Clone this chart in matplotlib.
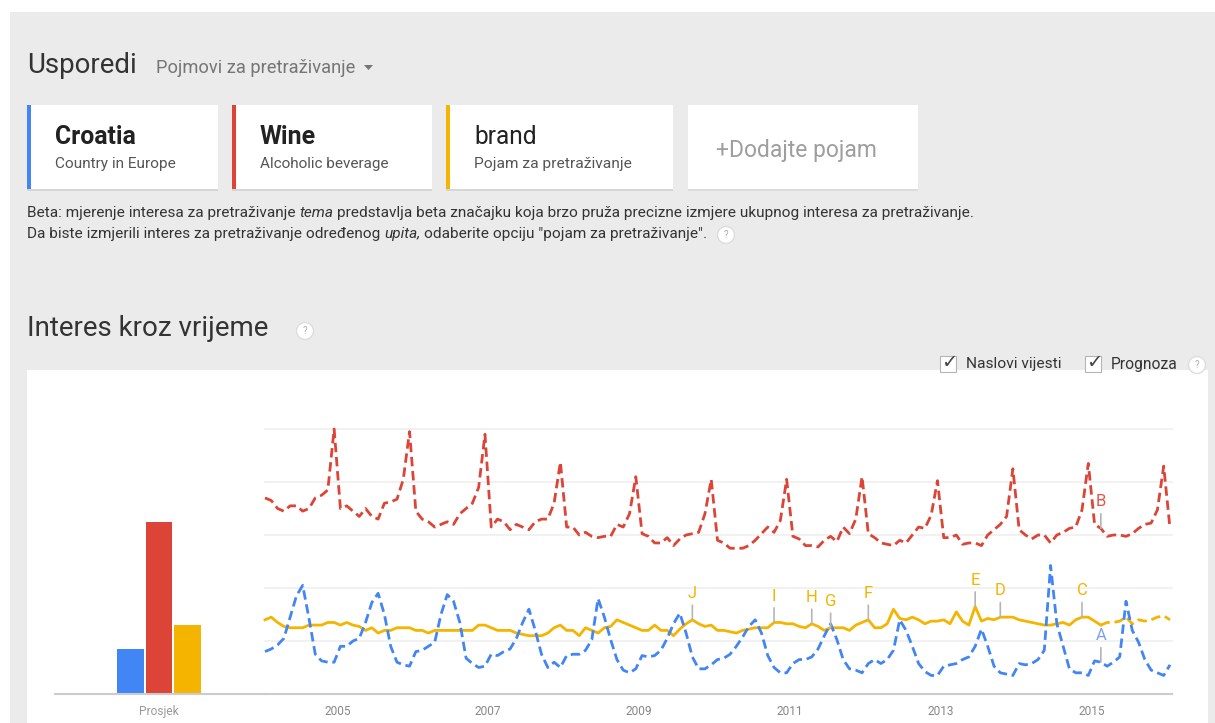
import numpy as np
import matplotlib
matplotlib.use("Agg")
import matplotlib.pyplot as plt
from matplotlib.patches import Rectangle, Circle, Polygon

plt.rcParams["font.family"] = ["Roboto", "DejaVu Sans"]

# ---- data ----
terms = ["Croatia", "Wine", "brand"]
term_subtitles = ["Country in Europe", "Alcoholic beverage", "Pojam za pretraživanje"]
term_colors = ["#4285f4", "#db4437", "#f4b400"]
averages = [17, 65, 26]

# monthly values, Jan 2004 .. Jan 2016
croatia = [
    16, 17, 18.5, 21, 29, 37, 41, 28.5, 15, 12.5, 12, 12,
    18, 18, 20, 21, 27, 34.5, 38, 30, 18, 12, 11, 10.5,
    16, 16.5, 18, 19.5, 30, 37.5, 35, 27, 13.5, 11.5, 10, 10.5,
    15, 14.5, 16, 17, 21, 27, 32, 24, 15, 10, 12, 10,
    14.5, 15, 15, 16.5, 20.5, 36, 29, 20.5, 13, 9, 8, 9.5,
    14.5, 14, 14.5, 16.5, 21, 26.5, 30.5, 23, 14, 9.5, 9.5, 11,
    13, 13.5, 15, 18, 21.5, 25.5, 28, 23, 14.5, 10, 8, 8,
    11.5, 13, 13, 14, 17, 22, 26.5, 20.5, 13, 9.5, 9, 8,
    11.5, 13, 11.5, 13, 16.5, 28, 24, 18, 11.5, 8.5, 7, 7,
    10.5, 11, 11.5, 13, 14, 18, 24.5, 18, 10.5, 8, 7.5, 7,
    11.5, 11, 11.5, 13, 16.5, 48.5, 26.5, 18, 9.5, 8, 8, 7,
    12.5, 12, 10.5, 12, 14, 35, 24, 19.5, 13, 9, 8, 7,
    11,
]
wine = [
    74, 73, 70, 69, 71, 71, 69, 70, 74, 75, 77, 100,
    70, 71, 69, 67, 70, 67, 66, 72, 72.5, 73.5, 81, 99,
    69, 66, 65, 63, 64, 65, 64, 68, 70, 72, 78, 98,
    63, 66, 65, 62, 64, 63, 62, 65, 66, 66, 72, 87.5,
    63, 63, 60, 61, 59.5, 59, 59.5, 59.5, 64, 63, 68, 82,
    60.5, 59.5, 57, 57, 59, 56, 58.5, 60, 60.5, 61, 68, 81,
    58, 57, 55, 55, 55, 56, 58, 60.5, 63, 61, 65.5, 81,
    59.5, 58.5, 56, 56, 55.5, 58, 59.5, 57.5, 63, 60.5, 66, 82,
    60.5, 59, 57, 56.5, 56, 58, 57, 60, 63, 62.5, 67.5, 80.5,
    59, 59, 60, 56.5, 57, 57, 56, 60, 62, 64, 67, 85,
    62, 60, 58.5, 60, 60, 57, 60, 61, 62.5, 63, 69.5, 87,
    64, 62.5, 59.5, 60, 60, 59.5, 60.5, 62.5, 64, 64.5, 69.5, 86,
    62.5,
]
brand = [
    28, 29, 27, 25.5, 25, 25, 25, 26, 26, 26, 27, 27,
    26, 27, 26, 25.5, 24, 25, 23, 24, 24, 25, 25, 25,
    24, 24, 23, 24, 24, 24, 24, 24, 24, 24, 26, 26,
    25, 24, 24, 24, 23, 22.5, 22, 22, 22, 23, 25, 26,
    24, 24, 22, 25, 24, 23, 25, 25.5, 28, 27, 26, 25,
    24, 24, 26, 24, 24, 22, 24.5, 26.5, 28, 26.5, 25.5, 26,
    24, 24, 23.5, 23, 24, 24.5, 25, 25, 25, 27, 27, 26.5,
    26.5, 25.5, 25, 26.5, 25.5, 24, 25, 25, 25, 24, 26, 27,
    28, 25, 25, 26.5, 32, 28.5, 28, 29, 28, 26.5, 27.5, 27.5,
    28, 26.5, 31, 27.5, 26, 33, 27.5, 28.5, 28, 29, 29, 29,
    28, 27.5, 27, 26.5, 26, 26, 26.5, 27, 26, 28, 29, 29,
    27.5, 26, 27, 27, 27.5, 29, 26.5, 28, 27.5, 28, 29, 29.5,
    28,
]
forecast_start = 133  # brand turns into the dashed forecast here

year_labels = ["2005", "2007", "2009", "2011", "2013", "2015"]

event_letters = ["A", "B", "C", "D", "E", "F", "G", "H", "I", "J"]
event_months = [133, 133, 130, 117, 113, 96, 90, 87, 81, 68]
event_terms = ["Croatia", "Wine", "brand", "brand", "brand", "brand", "brand", "brand", "brand", "brand"]

# ---- figure and pixel-space background ----
W, H = 1215, 723
fig = plt.figure(figsize=(W / 100, H / 100), dpi=100)
bg = fig.add_axes([0, 0, 1, 1], zorder=0)
bg.set_xlim(0, W)
bg.set_ylim(H, 0)
bg.axis("off")
renderer = fig.canvas.get_renderer()


def px_axes(x0, y0, x1, y1, **kw):
    return fig.add_axes([x0 / W, 1 - y1 / H, (x1 - x0) / W, (y1 - y0) / H], **kw)


def fitted(x, y, s, width, **kw):
    t = bg.text(x, y, s, fontsize=10, **kw)
    w = t.get_window_extent(renderer).width
    t.set_fontsize(10 * width / w)
    return t


def measure(s, size, **kw):
    t = bg.text(0, 0, s, fontsize=size, **kw)
    w = t.get_window_extent(renderer).width
    t.remove()
    return w


def rich_line(x, y, parts, width, color):
    full = " ".join(p for p, _ in parts)
    size = 10 * width / measure(full, 10)
    space = measure("a a", size) - measure("aa", size)
    for text, style in parts:
        bg.text(x, y, text, fontsize=size, style=style, color=color, va="center")
        x += measure(text, size, style=style) + space
    return x


def help_icon(x, y):
    bg.add_patch(Circle((x, y), 8.5, fc="white", ec="#dddddd", lw=1))
    bg.text(x, y + 0.5, "?", fontsize=7, color="#b0b0b0", ha="center", va="center")


bg.add_patch(Rectangle((10, 12), W - 10, H - 12, fc="#ebebeb", ec="none"))
bg.add_patch(Rectangle((27, 370), 1181, H - 370, fc="white", ec="none"))

# header
fitted(27, 73, "Usporedi", 110, color="#333333", va="baseline")
fitted(156, 73, "Pojmovi za pretraživanje", 199, color="#757575", va="baseline")
bg.add_patch(Polygon([[364, 65], [373, 65], [368.5, 70]], fc="#757575", ec="none"))

# term cards
card_x = [(27, 218), (232, 432), (446, 673)]
title_w = [81, 56, 63]
sub_w = [121, 129, 157]
for i, (x0, x1) in enumerate(card_x):
    bg.add_patch(Rectangle((x0, 106), x1 - x0, 85, fc="#d6d6d6", ec="none"))
    bg.add_patch(Rectangle((x0, 105), x1 - x0, 84, fc="white", ec="none"))
    bg.add_patch(Rectangle((x0, 105), 4, 84, fc=term_colors[i], ec="none"))
    fitted(x0 + 28, 144, terms[i], title_w[i], color="#222222", va="baseline",
           fontweight="bold" if i < 2 else "normal")
    fitted(x0 + 28, 168, term_subtitles[i], sub_w[i], color="#555555", va="baseline")
bg.add_patch(Rectangle((688, 106), 230, 85, fc="#dcdcdc", ec="none"))
bg.add_patch(Rectangle((688, 105), 230, 84, fc="white", ec="none"))
fitted(716, 157, "+Dodajte pojam", 161, color="#9e9e9e", va="baseline")

# beta note
rich_line(27, 213, [("Beta: mjerenje interesa za pretraživanje", "normal"), ("tema", "italic"),
                    ("predstavlja beta značajku koja brzo pruža precizne izmjere ukupnog interesa za pretraživanje.", "normal")],
          951, "#333333")
rich_line(27, 234, [("Da biste izmjerili interes za pretraživanje određenog", "normal"), ("upita,", "italic"),
                    ("odaberite opciju \"pojam za pretraživanje\".", "normal")],
          680, "#333333")
help_icon(726, 235)

# section title and options
fitted(27, 329, "Interes kroz vrijeme", 243, color="#333333", va="center")
help_icon(305, 331)
for bx, label, lw_ in [(940, "Naslovi vijesti", 95), (1085, "Prognoza", 66)]:
    bg.add_patch(Rectangle((bx, 356), 16, 16, fc="white", ec="#b5b5b5", lw=0.8))
    bg.text(bx + 9, 362, "✓", fontsize=14, family="DejaVu Sans", color="#444444",
            ha="center", va="center")
    fitted(bx + 26, 364, label, lw_, color="#333333", va="center")
help_icon(1197, 365)

# ---- average bars ----
bar_ax = px_axes(55, 429, 265, 694, zorder=1)
bar_ax.set_facecolor("none")
bar_ax.bar(range(len(averages)), averages, width=0.93, color=term_colors, zorder=2)
bar_ax.set_xlim(-2.65, 4.72)
bar_ax.set_ylim(0, 100)
bar_ax.set_xticks([1], labels=["Prosjek"])
bar_ax.set_yticks([])
bar_ax.tick_params(length=0, colors="#999999", labelsize=8.6, pad=8)
for s in ["top", "left", "right"]:
    bar_ax.spines[s].set_visible(False)
bar_ax.spines["bottom"].set_color("#cccccc")
bar_ax.spines["bottom"].set_linewidth(1.5)

# ---- time series ----
ax = px_axes(265, 429, 1172, 694, zorder=1)
ax.set_facecolor("none")
x = np.arange(len(wine))
for v in [20, 40, 60, 80, 100]:
    ax.axhline(v, color="#eeeeee", lw=1.1, zorder=0, clip_on=False)

dash = (3.4, 1.7)
ax.plot(x, wine, color=term_colors[1], lw=2.0, dashes=dash, clip_on=False, zorder=3)
ax.plot(x[:forecast_start + 1], brand[:forecast_start + 1], color=term_colors[2], lw=2.0,
        solid_joinstyle="round", clip_on=False, zorder=3)
ax.plot(x[forecast_start:], brand[forecast_start:], color=term_colors[2], lw=2.0,
        dashes=dash, clip_on=False, zorder=3)
ax.plot(x, croatia, color=term_colors[0], lw=2.0, dashes=dash, clip_on=False, zorder=4)

series = dict(zip(terms, [croatia, wine, brand]))
letter_colors = {"Croatia": "#7f9ff0", "Wine": "#e0574a", "brand": "#f4b400"}
for letter, m, term in zip(event_letters, event_months, event_terms):
    v = series[term][m]
    ax.annotate("", xy=(m, v), xytext=(0, 10.5), textcoords="offset points",
                arrowprops=dict(arrowstyle="-", color="#b5b5b5", lw=1.2, shrinkA=0, shrinkB=0),
                zorder=5)
    ax.annotate(letter, xy=(m, v), xytext=(0, 19), textcoords="offset points",
                ha="center", va="center", color=letter_colors[term], fontsize=12, zorder=5)

ax.set_xlim(0, 144.32)
ax.set_ylim(0, 100)
ax.set_xticks([12 * (int(y) - 2004) - 0.5 for y in year_labels], labels=year_labels)
ax.set_yticks([])
ax.tick_params(length=0, colors="#888888", labelsize=8.6, pad=8)
for s in ["top", "left", "right"]:
    ax.spines[s].set_visible(False)
ax.spines["bottom"].set_color("#cccccc")
ax.spines["bottom"].set_linewidth(1.5)

fig.savefig("out.png", dpi=100)
